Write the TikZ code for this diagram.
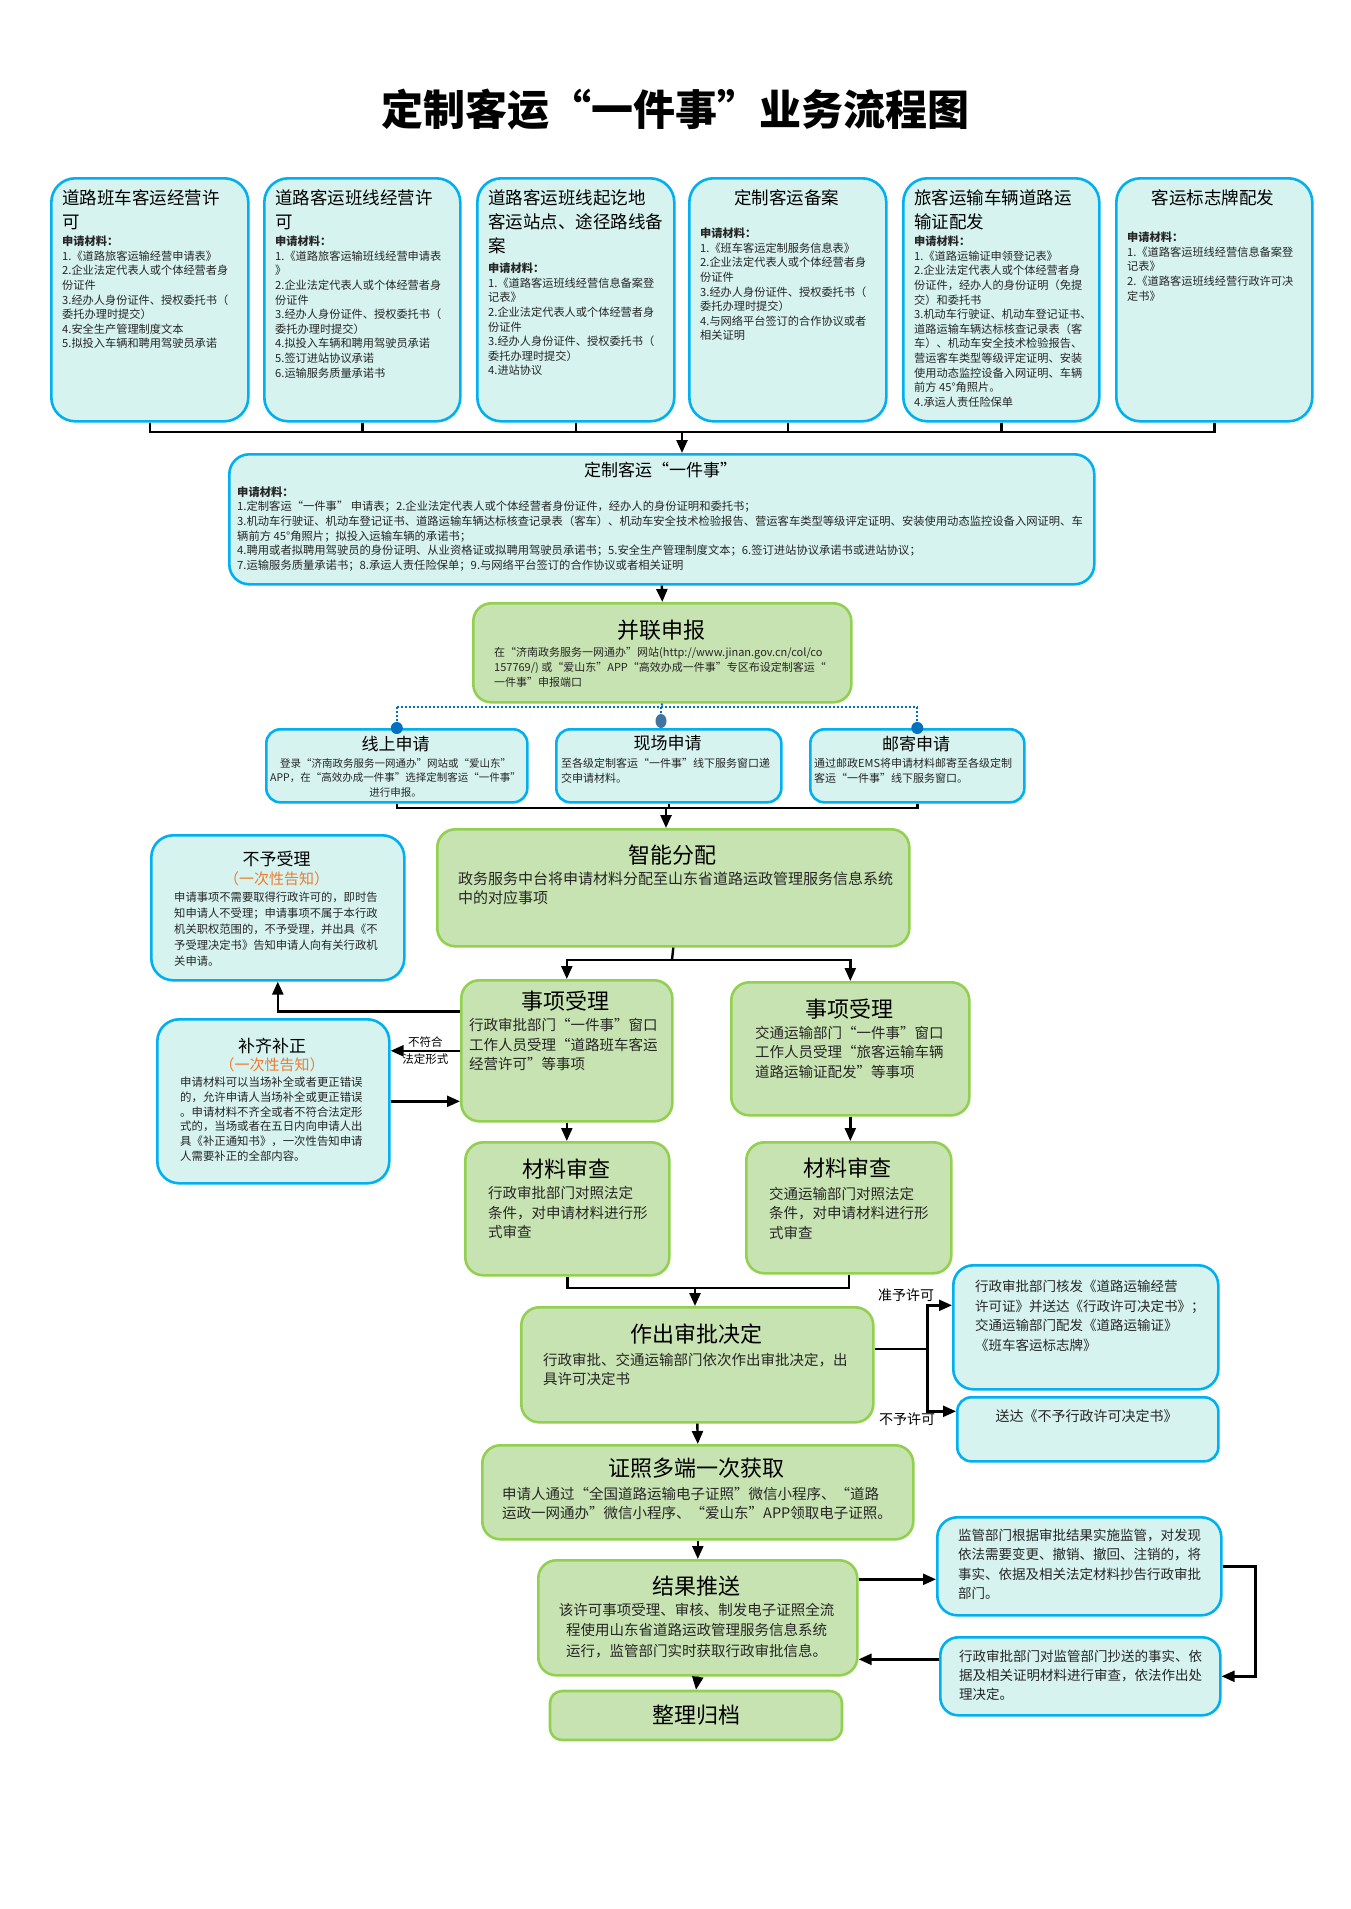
\documentclass[tikz,border=0pt]{standalone}
\usepackage{fontspec}
\setmainfont{Noto Sans CJK SC}
\usetikzlibrary{arrows.meta,positioning,calc}

\definecolor{boxblue}{RGB}{0,176,240}
\definecolor{fillblue}{RGB}{214,243,240}
\definecolor{boxgreen}{RGB}{146,208,80}
\definecolor{fillgreen}{RGB}{200,227,178}
\definecolor{noteorange}{RGB}{237,125,49}
\definecolor{dotblue}{RGB}{0,112,192}
\definecolor{dotgrey}{RGB}{68,114,160}
\definecolor{bodytext}{RGB}{38,38,38}

\tikzset{
  bluebox/.style={draw=boxblue, fill=fillblue, line width=2.6pt, rounded corners=24pt, anchor=north west},
  greenbox/.style={draw=boxgreen, fill=fillgreen, line width=2.6pt, rounded corners=18pt, anchor=north west},
  tophead/.style={inner sep=0pt, align=left, font=\fontsize{17.5}{24}\selectfont},
  topbody/.style={inner sep=0pt, align=left, anchor=north west, text=bodytext, font=\fontsize{11.2}{14.6}\selectfont},
  bighead/.style={inner sep=0pt, anchor=north, font=\fontsize{22}{22}\selectfont},
  midhead/.style={inner sep=0pt, anchor=north, font=\fontsize{17}{17}\selectfont},
  onceinfo/.style={inner sep=0pt, anchor=north, text=noteorange, font=\fontsize{15}{15}\selectfont},
  greenbody/.style={inner sep=0pt, align=left, anchor=north west, text=bodytext, font=\fontsize{14.5}{19.5}\selectfont},
  smallbody/.style={inner sep=0pt, align=left, anchor=north west, text=bodytext, font=\fontsize{11.3}{16}\selectfont},
  line/.style={line width=2.4pt},
  arr/.style={line width=2.4pt, -{Triangle[length=13pt,width=11pt]}},
  dotline/.style={draw=dotblue, line width=2pt, dash pattern=on 2pt off 2pt}
}

\begin{document}
\begin{tikzpicture}[x=1pt,y=-1pt]

    % Page and title.
    \fill[white] (0,0) rectangle (1350,1909);
    \useasboundingbox (0,0) rectangle (1350,1909);
    \node[font=\fontsize{42}{42}\selectfont\bfseries] (title) at (675,110) {定制客运“一件事”业务流程图};

    % Six single items.
    \node[bluebox, minimum width=197pt, minimum height=243pt] (b1) at (50,177) {};
    \node[bluebox, minimum width=196pt, minimum height=243pt] (b2) at (263,177) {};
    \node[bluebox, minimum width=197pt, minimum height=243pt] (b3) at (476,177) {};
    \node[bluebox, minimum width=197pt, minimum height=243pt] (b4) at (688,177) {};
    \node[bluebox, minimum width=196pt, minimum height=243pt] (b5) at (902,177) {};
    \node[bluebox, minimum width=196pt, minimum height=243pt] (b6) at (1115,177) {};

    \node[tophead, anchor=north west] (b1h) at (62,189) {道路班车客运经营许\\可};
    \node[topbody] (b1b) at (62,236) {{\bfseries 申请材料：}\\1.《道路旅客运输经营申请表》\\2.企业法定代表人或个体经营者身\\份证件\\3.经办人身份证件、授权委托书（\\委托办理时提交）\\4.安全生产管理制度文本\\5.拟投入车辆和聘用驾驶员承诺};

    \node[tophead, anchor=north west] (b2h) at (275,189) {道路客运班线经营许\\可};
    \node[topbody] (b2b) at (275,236) {{\bfseries 申请材料：}\\1.《道路旅客运输班线经营申请表\\》\\2.企业法定代表人或个体经营者身\\份证件\\3.经办人身份证件、授权委托书（\\委托办理时提交）\\4.拟投入车辆和聘用驾驶员承诺\\5.签订进站协议承诺\\6.运输服务质量承诺书};

    \node[tophead, anchor=north west] (b3h) at (488,189) {道路客运班线起讫地\\客运站点、途径路线备\\案};
    \node[topbody] (b3b) at (488,263) {{\bfseries 申请材料：}\\1.《道路客运班线经营信息备案登\\记表》\\2.企业法定代表人或个体经营者身\\份证件\\3.经办人身份证件、授权委托书（\\委托办理时提交）\\4.进站协议};

    \node[tophead, anchor=north] (b4h) at (786.5,189) {定制客运备案};
    \node[topbody] (b4b) at (700,228) {{\bfseries 申请材料：}\\1.《班车客运定制服务信息表》\\2.企业法定代表人或个体经营者身\\份证件\\3.经办人身份证件、授权委托书（\\委托办理时提交）\\4.与网络平台签订的合作协议或者\\相关证明};

    \node[tophead, anchor=north west] (b5h) at (914,189) {旅客运输车辆道路运\\输证配发};
    \node[topbody] (b5b) at (914,236) {{\bfseries 申请材料：}\\1.《道路运输证申领登记表》\\2.企业法定代表人或个体经营者身\\份证件，经办人的身份证明（免提\\交）和委托书\\3.机动车行驶证、机动车登记证书、\\道路运输车辆达标核查记录表（客\\车）、机动车安全技术检验报告、\\营运客车类型等级评定证明、安装\\使用动态监控设备入网证明、车辆\\前方 45°角照片。\\4.承运人责任险保单};

    \node[tophead, anchor=north] (b6h) at (1213,189) {客运标志牌配发};
    \node[topbody] (b6b) at (1127,232) {{\bfseries 申请材料：}\\1.《道路客运班线经营信息备案登\\记表》\\2.《道路客运班线经营行政许可决\\定书》};

    % Joint item.
    \node[bluebox, rounded corners=20pt, minimum width=865pt, minimum height=130pt] (yjs) at (228,453) {};
    \node[midhead] (yjsh) at (660.5,461.5) {定制客运“一件事”};
    \node[topbody, font=\fontsize{11.3}{14.6}\selectfont] (yjsb) at (237,486.5) {{\bfseries 申请材料：}\\1.定制客运“一件事” 申请表；2.企业法定代表人或个体经营者身份证件，经办人的身份证明和委托书；\\3.机动车行驶证、机动车登记证书、道路运输车辆达标核查记录表（客车）、机动车安全技术检验报告、营运客车类型等级评定证明、安装使用动态监控设备入网证明、车\\辆前方 45°角照片；拟投入运输车辆的承诺书；\\4.聘用或者拟聘用驾驶员的身份证明、从业资格证或拟聘用驾驶员承诺书；5.安全生产管理制度文本；6.签订进站协议承诺书或进站协议；\\7.运输服务质量承诺书；8.承运人责任险保单；9.与网络平台签订的合作协议或者相关证明};

    % Application.
    \node[greenbox, minimum width=378pt, minimum height=99pt] (bl) at (472,602) {};
    \node[bighead] (blh) at (661,620) {并联申报};
    \node[smallbody, font=\fontsize{11}{15}\selectfont] (blb) at (494,646.5) {在“济南政务服务一网通办”网站(http://www.jinan.gov.cn/col/co\\157769/) 或“爱山东”APP“高效办成一件事”专区布设定制客运“\\一件事”申报端口};

    \node[bluebox, rounded corners=14pt, minimum width=261pt, minimum height=73pt] (xs) at (265,728) {};
    \node[bluebox, rounded corners=14pt, minimum width=225pt, minimum height=73pt] (xc) at (555,728) {};
    \node[bluebox, rounded corners=14pt, minimum width=214pt, minimum height=73pt] (yj) at (809,728) {};
    \node[midhead] (xsh) at (395.5,735.5) {线上申请};
    \node[midhead] (xch) at (667.5,735.5) {现场申请};
    \node[midhead] (yjh) at (916,735.5) {邮寄申请};
    \node[smallbody, anchor=north, align=center, font=\fontsize{10.5}{14.5}\selectfont] (xsb) at (395.5,758) {登录“济南政务服务一网通办”网站或“爱山东”\\APP，在“高效办成一件事”选择定制客运“一件事”\\进行申报。};
    \node[smallbody, font=\fontsize{11}{14.5}\selectfont] (xcb) at (561,758) {至各级定制客运“一件事”线下服务窗口递\\交申请材料。};
    \node[smallbody, font=\fontsize{11}{14.5}\selectfont] (yjb) at (814,758) {通过邮政EMS将申请材料邮寄至各级定制\\客运“一件事”线下服务窗口。};

    % Dotted links.
    \coordinate (dotbus) at (661,707);
    \draw[dotline] (bl.south) -- (dotbus);
    \draw[dotline] (xs.north |- dotbus) -- (yj.north |- dotbus);
    \draw[dotline] (xs.north |- dotbus) -- (xs.north);
    \draw[dotline] (yj.north |- dotbus) -- (yj.north);
    \draw[dotline] (dotbus) -- ++(0,10);
    \fill[dotblue] (xs.north) circle [radius=6pt];
    \fill[dotblue] (yj.north) circle [radius=6pt];
    \fill[dotgrey] (661,721) ellipse [x radius=5.5pt, y radius=7pt];

    % Distribution and acceptance.
    \node[greenbox, minimum width=472pt, minimum height=117pt] (zn) at (436,828) {};
    \node[bighead] (znh) at (672,845) {智能分配};
    \node[greenbody, font=\fontsize{15}{19}\selectfont] (znb) at (458,871.5) {政务服务中台将申请材料分配至山东省道路运政管理服务信息系统\\中的对应事项};

    \node[bluebox, rounded corners=22pt, minimum width=253pt, minimum height=145pt] (byl) at (150,834) {};
    \node[midhead] (bylh) at (276.5,850.5) {不予受理};
    \node[onceinfo] (byln) at (276.5,871.5) {（一次性告知）};
    \node[smallbody] (bylb) at (174,892) {申请事项不需要取得行政许可的，即时告\\知申请人不受理；申请事项不属于本行政\\机关职权范围的，不予受理，并出具《不\\予受理决定书》告知申请人向有关行政机\\关申请。};

    \node[greenbox, minimum width=211pt, minimum height=141pt] (sxL) at (460,979) {};
    \node[bighead] (sxLh) at (565.5,991) {事项受理};
    \node[greenbody] (sxLb) at (469,1018.5) {行政审批部门“一件事”窗口\\工作人员受理“道路班车客运\\经营许可”等事项};

    \node[greenbox, minimum width=238pt, minimum height=133pt] (sxR) at (730,981) {};
    \node[bighead] (sxRh) at (849,999) {事项受理};
    \node[greenbody] (sxRb) at (755,1025.5) {交通运输部门“一件事”窗口\\工作人员受理“旅客运输车辆\\道路运输证配发”等事项};

    \node[bluebox, rounded corners=22pt, minimum width=232pt, minimum height=164pt] (bqb) at (156,1018) {};
    \node[midhead] (bqbh) at (272,1037.5) {补齐补正};
    \node[onceinfo] (bqbn) at (272,1057.5) {（一次性告知）};
    \node[smallbody, font=\fontsize{11.4}{14.8}\selectfont] (bqbb) at (180,1076.5) {申请材料可以当场补全或者更正错误\\的，允许申请人当场补全或更正错误\\。申请材料不齐全或者不符合法定形\\式的，当场或者在五日内向申请人出\\具《补正通知书》，一次性告知申请\\人需要补正的全部内容。};

    % Review and decision.
    \node[greenbox, minimum width=204pt, minimum height=133pt] (clL) at (464,1141) {};
    \node[bighead] (clLh) at (566,1159) {材料审查};
    \node[greenbody] (clLb) at (488,1186.5) {行政审批部门对照法定\\条件，对申请材料进行形\\式审查};

    \node[greenbox, minimum width=205pt, minimum height=131pt] (clR) at (745,1141) {};
    \node[bighead] (clRh) at (847.5,1158) {材料审查};
    \node[greenbody] (clRb) at (769,1186.5) {交通运输部门对照法定\\条件，对申请材料进行形\\式审查};

    \node[greenbox, minimum width=352pt, minimum height=115pt] (zc) at (520,1306) {};
    \node[bighead] (zch) at (696,1324) {作出审批决定};
    \node[greenbody, font=\fontsize{14.5}{19}\selectfont] (zcb) at (543,1352.5) {行政审批、交通运输部门依次作出审批决定，出\\具许可决定书};

    \node[bluebox, rounded corners=20pt, minimum width=265pt, minimum height=124pt] (zy) at (952,1264) {};
    \node[greenbody, font=\fontsize{13.5}{19.5}\selectfont] (zyb) at (975,1280) {行政审批部门核发《道路运输经营\\许可证》并送达《行政许可决定书》；\\交通运输部门配发《道路运输证》\\《班车客运标志牌》};

    \node[bluebox, rounded corners=14pt, minimum width=261pt, minimum height=64pt] (by) at (956,1396) {};
    \node[inner sep=0pt, anchor=north, text=bodytext, font=\fontsize{14}{14}\selectfont] (byb) at (1086.5,1409) {送达《不予行政许可决定书》};

    % Result and archive.
    \node[greenbox, minimum width=431pt, minimum height=94pt] (zz) at (481,1444) {};
    \node[bighead] (zzh) at (696.5,1458) {证照多端一次获取};
    \node[greenbody, font=\fontsize{14.5}{19}\selectfont] (zzb) at (502,1486.5) {申请人通过“全国道路运输电子证照”微信小程序、“道路\\运政一网通办”微信小程序、“爱山东”APP领取电子证照。};

    \node[greenbox, minimum width=319pt, minimum height=115pt] (jg) at (537,1559) {};
    \node[bighead] (jgh) at (696.5,1576) {结果推送};
    \node[greenbody, anchor=north, align=center, font=\fontsize{14.5}{20.5}\selectfont] (jgb) at (696.5,1602.5) {该许可事项受理、审核、制发电子证照全流\\程使用山东省道路运政管理服务信息系统\\运行，监管部门实时获取行政审批信息。};

    \node[bluebox, rounded corners=20pt, minimum width=284pt, minimum height=98pt] (jgm) at (936,1516) {};
    \node[greenbody, font=\fontsize{13.5}{19.3}\selectfont] (jgmb) at (958,1529) {监管部门根据审批结果实施监管，对发现\\依法需要变更、撤销、撤回、注销的，将\\事实、依据及相关法定材料抄告行政审批\\部门。};

    \node[bluebox, rounded corners=18pt, minimum width=280pt, minimum height=78pt] (xzb) at (939,1636) {};
    \node[greenbody, font=\fontsize{13.5}{19}\selectfont] (xzbb) at (959,1650) {行政审批部门对监管部门抄送的事实、依\\据及相关证明材料进行审查，依法作出处\\理决定。};

    \node[greenbox, anchor=center, rounded corners=12pt, minimum width=292pt, minimum height=49pt, font=\fontsize{22}{22}\selectfont] (zl) at (696,1715.5) {整理归档};

    % Connectors, top part.
    \coordinate (topbus) at (682,432);
    \foreach \b in {b1,b2,b3,b4,b5,b6}
        \draw[line] (\b.south) |- (topbus);
    \draw[arr] (topbus) -- (topbus |- yjs.north);
    \draw[arr] (yjs.south) -- (bl.north);

    \coordinate (midbus) at (666,808);
    \foreach \b in {xs,xc,yj}
        \draw[line] (\b.south) |- (midbus);
    \draw[arr] (midbus) -- (midbus |- zn.north);

    \coordinate (znbus) at (672,960);
    \draw[line] (zn.south) -- (znbus);
    \draw[arr] (znbus) -| (sxL.north);
    \draw[arr] (znbus) -| (sxR.north);

    % Connectors, acceptance loop.
    \draw[arr] ([yshift=39.5pt]sxL.west) -| (byl.south);
    \draw[arr] (sxL.west) -- (sxL.west -| bqb.east)
        node[midway, inner sep=0pt, align=center, font=\fontsize{11.5}{17}\selectfont] (bfh) {不符合\\法定形式};
    \draw[arr] (bqb.east) -- (bqb.east -| sxL.west);

    \draw[arr] (sxL.south) -- (sxL.south |- clL.north);
    \draw[arr] (sxR.south) -- (sxR.south |- clR.north);

    \coordinate (clbus) at (695,1288);
    \draw[line] (clL.south) |- (clbus);
    \draw[line] (clR.south) |- (clbus);
    \draw[arr] (clbus) -- (clbus |- zc.north);

    % Connectors, decision fork.
    \draw[line] ([yshift=16pt]zc.east) -- ++(53,0) coordinate (fork);
    \draw[arr] (fork) |- ([yshift=22pt]zy.west);
    \draw[arr] (fork) |- ([yshift=18pt]by.west);
    \node[font=\fontsize{14}{14}\selectfont] (lbok) at (906,1295) {准予许可};
    \node[font=\fontsize{14}{14}\selectfont] (lbno) at (907,1419) {不予许可};

    % Connectors, bottom part.
    \draw[arr] (zc.south) -- (zz.north);
    \draw[arr] (zz.south) -- (jg.north);
    \draw[arr] (jg.south) -- (zl.north);
    \draw[arr] ([yshift=38.5pt]jg.east) -- ([yshift=38.5pt]jg.east -| jgm.west);
    \draw[arr] (jgm.east) -- ++(33,0) |- (xzb.east);
    \draw[arr] ([yshift=17pt]xzb.west) -- ([yshift=17pt]xzb.west -| jg.east);

\end{tikzpicture}
\end{document}
